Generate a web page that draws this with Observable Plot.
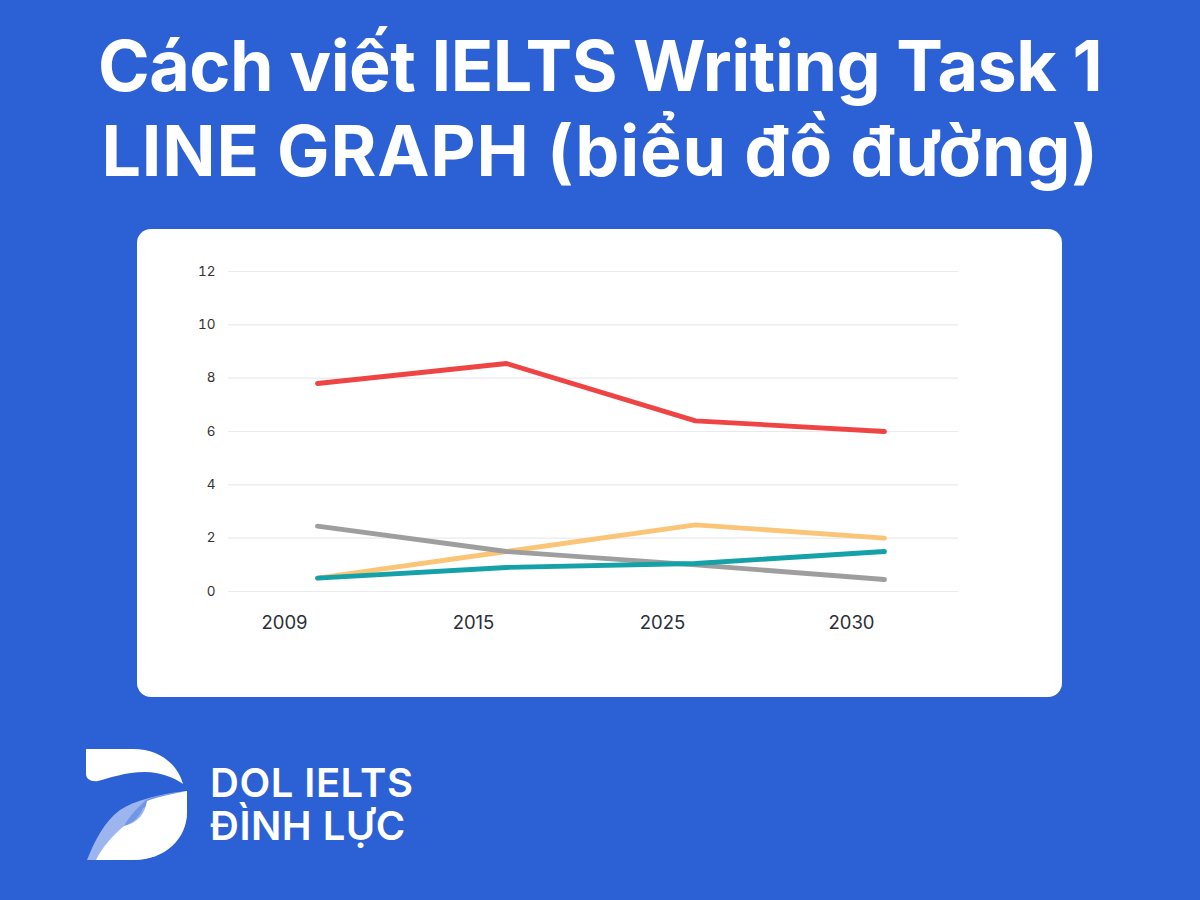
<!DOCTYPE html>
<html>
<head>
<meta charset="utf-8">
<script src="https://cdn.jsdelivr.net/npm/d3@7"></script>
<script src="https://cdn.jsdelivr.net/npm/@observablehq/plot@0.6"></script>
<style>
  html, body { margin: 0; padding: 0; }
  body { width: 1200px; height: 900px; background: #2C60D5; position: relative; overflow: hidden; font-family: Inter, "Noto Sans", sans-serif; }
  .title { position: absolute; left: 0; width: 1200px; text-align: center; color: #fff; font-weight: 700; font-size: 70px; white-space: nowrap; }
  #t1 { top: 23px; letter-spacing: -0.5px; }
  #t2 { top: 108px; letter-spacing: 0.8px; }
  #card { position: absolute; left: 137px; top: 229px; width: 925px; height: 468px; background: #fff; border-radius: 14px; overflow: hidden; }
  #logo { position: absolute; left: 0; top: 0; }
  #brand { position: absolute; left: 210px; top: 761px; color: #fff; font-weight: 600; font-size: 40px; line-height: 43px; letter-spacing: 0.5px; white-space: nowrap; }
</style>
</head>
<body>
<div class="title" id="t1">Cách viết IELTS Writing Task 1</div>
<div class="title" id="t2">LINE GRAPH (biểu đồ đường)</div>
<div id="card"></div>
<svg id="logo" width="200" height="900" viewBox="0 0 200 900">
  <path d="M86,749 L133,749 C160,749 178,765 183,784 C175,778 160,772 145,772 C125,772 110,778 98,781 C91,782 86,779 86,774 Z" fill="#fff"/>
  <path d="M187,791 C160,794 135,800 120,810 C104,822 94,842 87,860 L133,860 C166,860 187,838 187,812 Z" fill="#9db5ef"/>
  <path d="M187,791 C165,794 152,797 146,800 C140,806 132,812 124,826 C130,824 138,820 143,808 Z" fill="#7096e6"/>
  <path d="M187,791 C170,794 155,798 147,801 C145,812 140,822 124,826 C112,836 102,848 96,860 L133,860 C166,860 187,838 187,812 Z" fill="#fff"/>
</svg>
<div id="brand">DOL IELTS<br>ĐÌNH LỰC</div>
<script>
const years = ["2009", "2015", "2025", "2030"];
const seriesNames = ["A", "B", "C", "D"];
const red = [7.8, 8.55, 6.4, 6.0];
const yellow = [0.5, 1.5, 2.5, 2.0];
const gray = [2.45, 1.5, 1.0, 0.45];
const teal = [0.5, 0.9, 1.05, 1.5];
const yTicks = [0, 2, 4, 6, 8, 10, 12];
const colors = ["#EF4444", "#FAC577", "#9E9E9E", "#15A1A8"];

const seriesValues = [red, yellow, gray, teal];
const data = seriesValues.flatMap((vals, i) =>
  vals.map((v, j) => ({ series: seriesNames[i], year: years[j], value: v }))
);

const chart = Plot.plot({
  width: 925,
  height: 468,
  marginLeft: 91,
  marginRight: 104,
  marginTop: 42,
  marginBottom: 106,
  style: { background: "transparent", fontFamily: "Inter, 'Noto Sans', sans-serif" },
  x: { type: "point", domain: years, padding: 0, insetLeft: 88, insetRight: 74, label: null },
  y: { domain: [0, 12], ticks: yTicks, label: null },
  color: { domain: seriesNames, range: colors },
  marks: [
    Plot.gridY(yTicks, { stroke: "#e9e9ef", strokeOpacity: 1, strokeWidth: 1.2 }),
    Plot.axisY(yTicks, { tickSize: 0, tickPadding: 13, fontSize: 13.5, fill: "#333", label: null }),
    Plot.axisX({ tickSize: 0, tickPadding: 24, fontSize: 18.5, fill: "#2b2f38", dx: -33, label: null }),
    Plot.line(data, { x: "year", y: "value", z: "series", stroke: "series", strokeWidth: 4.8, strokeLinecap: "round", strokeLinejoin: "miter", curve: "linear" })
  ]
});
document.getElementById("card").appendChild(chart);
</script>
</body>
</html>
